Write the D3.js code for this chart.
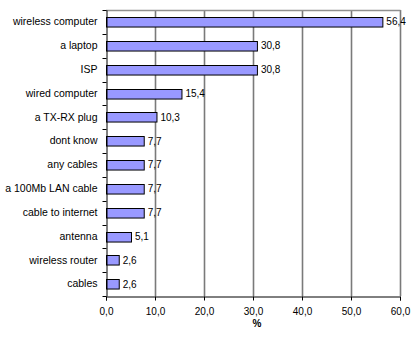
<!DOCTYPE html>
<html>
<head>
<meta charset="utf-8">
<script src="https://cdn.jsdelivr.net/npm/d3@7"></script>
<style>
body { margin: 0; background: #fff; }
text { font-family: "Liberation Sans", Arial, sans-serif; font-size: 10px; fill: #000; }
</style>
</head>
<body>
<svg></svg>
<script>
var categories = ["wireless computer", "a laptop", "ISP", "wired computer", "a TX-RX plug",
    "dont know", "any cables", "a 100Mb LAN cable", "cable to internet", "antenna",
    "wireless router", "cables"];
var values = [56.4, 30.8, 30.8, 15.4, 10.3, 7.7, 7.7, 7.7, 7.7, 5.1, 2.6, 2.6];
var xTicks = [0, 10, 20, 30, 40, 50, 60];
var xTitle = "%";

function chart() {
    var width = 411, height = 338;
    var left = 106, right = 400, top = 10, bottom = 296;

    var svg = d3.select("svg").attr("width", width).attr("height", height);

    var x = d3.scaleLinear().domain([0, 60]).range([left, right]);
    var y = d3.scaleBand().domain(categories).range([top, bottom]).paddingInner(0.6).paddingOuter(0.3);
    var fmt = function(v) { return d3.format(".1f")(v).replace(".", ","); };

    // gridlines
    svg.selectAll(".grid").data(xTicks.slice(1))
        .enter().append("line")
        .attr("x1", function(d) { return x(d) + 0.5; })
        .attr("x2", function(d) { return x(d) + 0.5; })
        .attr("y1", top).attr("y2", bottom)
        .attr("stroke", "#7a7a7a").attr("stroke-width", 1.6);
    svg.append("line").attr("x1", left).attr("x2", right + 0.5)
        .attr("y1", top + 0.5).attr("y2", top + 0.5)
        .attr("stroke", "#909090").attr("stroke-width", 1.3);

    // bars
    svg.selectAll(".bar").data(values)
        .enter().append("rect")
        .attr("x", x(0) + 0.5)
        .attr("y", function(d, i) { return Math.round(y(categories[i])) + 0.5; })
        .attr("width", function(d) { return x(d) - x(0); })
        .attr("height", y.bandwidth())
        .attr("fill", "#9999ff").attr("stroke", "#000").attr("stroke-width", 1);

    // value labels
    svg.selectAll(".val").data(values)
        .enter().append("text")
        .attr("x", function(d) { return x(d) + 4; })
        .attr("y", function(d, i) { return y(categories[i]) + y.bandwidth() / 2; })
        .attr("dy", "0.35em")
        .text(fmt);

    // y axis
    var yAxis = d3.axisLeft(y).tickSize(0).tickPadding(9);
    var gy = svg.append("g").attr("transform", "translate(" + (left + 0.5) + ",0)").call(yAxis);
    gy.select(".domain").attr("stroke", "#000");
    gy.selectAll("text").style("font-size", "10.5px").style("font-family", "Liberation Sans, Arial, sans-serif");
    var step = (bottom - top) / categories.length;
    d3.range(categories.length + 1).forEach(function(i) {
        gy.append("line").attr("x1", -4).attr("x2", 0)
            .attr("y1", Math.round(top + i * step) + 0.5).attr("y2", Math.round(top + i * step) + 0.5)
            .attr("stroke", "#000");
    });

    // x axis
    var xAxis = d3.axisBottom(x).tickValues(xTicks).tickSize(4).tickPadding(7).tickFormat(fmt);
    var gx = svg.append("g").attr("transform", "translate(0," + (bottom + 0.5) + ")").call(xAxis);
    gx.select(".domain").attr("stroke", "#000");
    gx.selectAll(".tick line").attr("stroke", "#000");
    gx.selectAll("text").style("font-size", "10px").style("font-family", "Liberation Sans, Arial, sans-serif");

    svg.append("text").attr("x", (left + right) / 2 + 4).attr("y", 327)
        .attr("text-anchor", "middle").style("font-weight", "bold").text(xTitle);
}
chart();
</script>
</body>
</html>
